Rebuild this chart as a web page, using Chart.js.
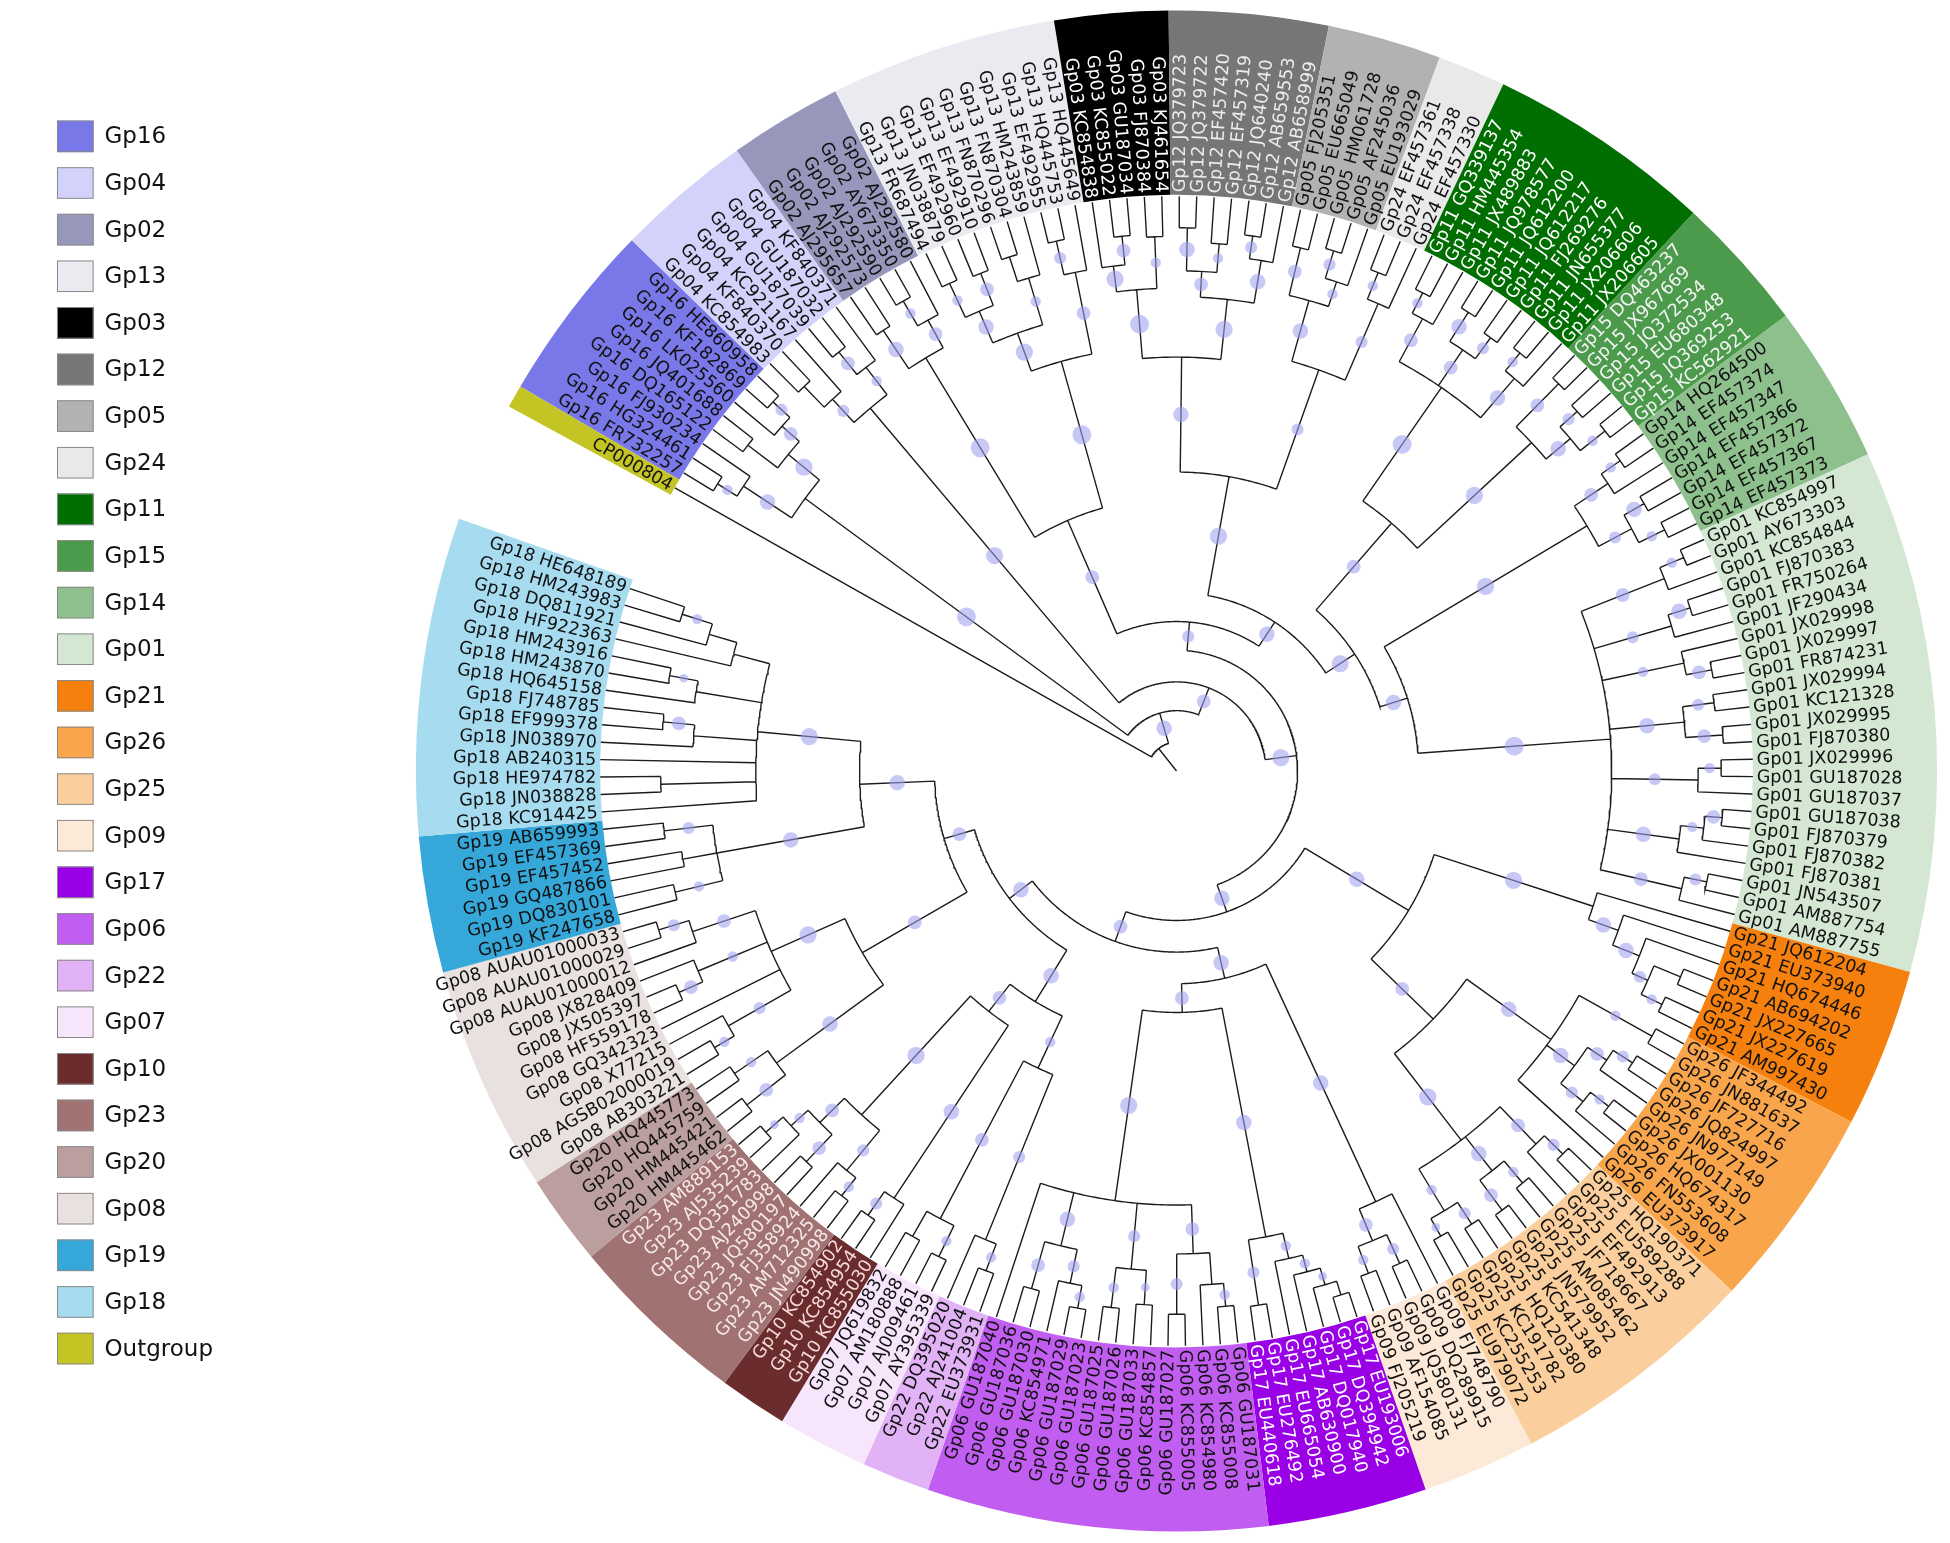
<!DOCTYPE html>
<html>
<head>
<meta charset="utf-8">
<title>Circular phylogeny</title>
<script src="https://cdn.jsdelivr.net/npm/chart.js@4.4.1/dist/chart.umd.min.js"></script>
<style>
  html, body { margin: 0; padding: 0; background: #fff; }
  #wrap { width: 1950px; height: 1543px; position: relative; }
</style>
</head>
<body>
<div id="wrap"><canvas id="tree"></canvas></div>
<script>
// groups, in legend order (= clockwise order after the outgroup)
const groupNames = ['Gp16','Gp04','Gp02','Gp13','Gp03','Gp12','Gp05','Gp24','Gp11','Gp15','Gp14','Gp01','Gp21',
  'Gp26','Gp25','Gp09','Gp17','Gp06','Gp22','Gp07','Gp10','Gp23','Gp20','Gp08','Gp19','Gp18','Outgroup'];
const groupColors = ['#7878e8','#d2d2fa','#9797bb','#eaeaf1','#000000','#767676','#b2b2b2','#e9e9e9','#006e00','#4c9b4c','#8dc08d','#d3e7d3','#f5800e',
  '#f8a54c','#fbcf9d','#fde9d7','#9a00e6','#c15df0','#e1b3f6','#f7e5fc','#6b2c2e','#a07272','#bb9e9e','#e9e0e0','#35a7d9','#a7dcf0','#c4c424'];
const groupInk = ['#111','#111','#111','#111','#fff','#ececec','#111','#111','#fff','#f4f4f4','#111','#111','#111',
  '#111','#111','#111','#fff','#111','#111','#111','#f6dcd6','#f6e8e8','#111','#111','#111','#111','#111'];

// leaves, clockwise from the outgroup
const leafLabels = [
  'CP000804',
  'Gp16 FR732257','Gp16 HG324461','Gp16 FJ930234','Gp16 DQ165122','Gp16 JQ401688','Gp16 LK025560','Gp16 KF182869','Gp16 HE860958',
  'Gp04 KC854983','Gp04 KF840370','Gp04 KC921167','Gp04 GU187039','Gp04 GU187032','Gp04 KF840371',
  'Gp02 AJ295657','Gp02 AJ292573','Gp02 AJ292590','Gp02 AY673350','Gp02 AJ292580',
  'Gp13 FR687494','Gp13 JN038879','Gp13 EF492960','Gp13 EF492910','Gp13 FN870296','Gp13 FN870304','Gp13 HM243859','Gp13 EF492955','Gp13 HQ445753','Gp13 HQ445649',
  'Gp03 KC854838','Gp03 KC855022','Gp03 GU187034','Gp03 FJ870384','Gp03 KJ461654',
  'Gp12 JQ379723','Gp12 JQ379722','Gp12 EF457420','Gp12 EF457319','Gp12 JQ640240','Gp12 AB659553','Gp12 AB658999',
  'Gp05 FJ205351','Gp05 EU665049','Gp05 HM061728','Gp05 AF245036','Gp05 EU193029',
  'Gp24 EF457361','Gp24 EF457338','Gp24 EF457330',
  'Gp11 GQ339137','Gp11 HM445354','Gp11 JX489883','Gp11 JQ978577','Gp11 JQ612200','Gp11 JQ612217','Gp11 FJ269276','Gp11 JN655377','Gp11 JX206606','Gp11 JX206605',
  'Gp15 DQ463237','Gp15 JX967669','Gp15 JQ372534','Gp15 EU680348','Gp15 JQ369253','Gp15 KC562921',
  'Gp14 HQ264500','Gp14 EF457374','Gp14 EF457347','Gp14 EF457366','Gp14 EF457372','Gp14 EF457367','Gp14 EF457373',
  'Gp01 KC854997','Gp01 AY673303','Gp01 KC854844','Gp01 FJ870383','Gp01 FR750264','Gp01 JF290434','Gp01 JX029998','Gp01 JX029997',
  'Gp01 FR874231','Gp01 JX029994','Gp01 KC121328','Gp01 JX029995','Gp01 FJ870380','Gp01 JX029996','Gp01 GU187028','Gp01 GU187037',
  'Gp01 GU187038','Gp01 FJ870379','Gp01 FJ870382','Gp01 FJ870381','Gp01 JN543507','Gp01 AM887754','Gp01 AM887755',
  'Gp21 JQ612204','Gp21 EU373940','Gp21 HQ674446','Gp21 AB694202','Gp21 JX227665','Gp21 JX227619','Gp21 AM997430',
  'Gp26 JF344492','Gp26 JN881637','Gp26 JF727716','Gp26 JQ824997','Gp26 JN977149','Gp26 JX001130','Gp26 HQ674317','Gp26 FN553608','Gp26 EU373917',
  'Gp25 HQ190371','Gp25 EU589288','Gp25 EF492913','Gp25 JF718667','Gp25 AM085462','Gp25 JN579952','Gp25 KC541348','Gp25 HQ120380','Gp25 KC191782','Gp25 KC255253','Gp25 EU979072',
  'Gp09 FJ748790','Gp09 DQ289915','Gp09 JQ580131','Gp09 AF154085','Gp09 FJ205219',
  'Gp17 EU193006','Gp17 DQ394942','Gp17 DQ017940','Gp17 AB630900','Gp17 EU665054','Gp17 EU276492','Gp17 EU440618',
  'Gp06 GU187031','Gp06 KC855008','Gp06 KC854980','Gp06 KC855005','Gp06 GU187027','Gp06 KC854857','Gp06 GU187033','Gp06 GU187026',
  'Gp06 GU187025','Gp06 GU187023','Gp06 GU187029','Gp06 KC854971','Gp06 GU187030','Gp06 GU187036','Gp06 GU187040',
  'Gp22 EU373931','Gp22 AJ241004','Gp22 DQ395020',
  'Gp07 AY395339','Gp07 AJ009461','Gp07 AM180888','Gp07 JQ619832',
  'Gp10 KC855030','Gp10 KC854954','Gp10 KC854902',
  'Gp23 JN490998','Gp23 AM712325','Gp23 FJ358924','Gp23 JQ580197','Gp23 AJ240998','Gp23 DQ351783','Gp23 AJ535239','Gp23 AM889153',
  'Gp20 HM445462','Gp20 HM445421','Gp20 HQ445759','Gp20 HQ445773',
  'Gp08 AB303221','Gp08 AGSB02000019','Gp08 X77215','Gp08 GQ342323','Gp08 HF559178','Gp08 JX505397','Gp08 JX828409',
  'Gp08 AUAU01000012','Gp08 AUAU01000029','Gp08 AUAU01000033',
  'Gp19 KF247658','Gp19 DQ830101','Gp19 GQ487866','Gp19 EF457452','Gp19 EF457369','Gp19 AB659993',
  'Gp18 KC914425','Gp18 JN038828','Gp18 HE974782','Gp18 AB240315','Gp18 JN038970','Gp18 EF999378','Gp18 FJ748785',
  'Gp18 HQ645158','Gp18 HM243870','Gp18 HM243916','Gp18 HF922363','Gp18 DQ811921','Gp18 HM243983','Gp18 HE648189'
];

// clade shapes: '*' = next leaf, ')d:s' = node at depth d (% of root-to-tip), support s
const groupTrees = [
  '(((*,*)94:70,*)90:85,((*,*)93.5:60,(*,(*,*)95:75)91:80)87:90)80:95',
  '(((*,*)93:60,*)88:75,((*,*)93.5:80,*)88.5:70)82.5:90',
  '((*,*)92:85,((*,*)94.5:70,*)89.5:80)84:95',
  '((((*,*)93.5:70,(*,*)93:80)87:85,((*,*)94:60,*)89.5:70)81:90,((*,*)94.5:75,*)88.5:80)74:95',
  '((*,(*,*)93.5:80)88.5:90,(*,*)93:70)84:95',
  '(((*,*)94.5:85,(*,*)92:70)87:80,((*,*)94:75,*)90:85)82.5:90',
  '((*,*)93.5:80,((*,*)94.5:75,*)89.5:70)85:85',
  '((*,*)93.5:70,*)88.5:75',
  '(((*,*)93.5:70,*)89.5:80,((*,*)94.5:85,(*,*)93:75)88.5:80,((*,*)94:70,*)90:85)81:95',
  '((*,*)94.5:80,((*,*)93.5:75,(*,*)95:70)89.5:85)84:90',
  '(((*,*)94:70,*)90:80,((*,*)93.5:85,(*,*)94.5:70)89.5:75)83:90',
  '(((*,*)95.5:70,*)91:80,((*,*)93.5:85,*)89.5:75,(*,(*,*)94.5:80)90:70,((*,*)94:75,(*,*)95:80)88.5:85,((*,*)94.5:70,*)90.5:75,(((*,*)95:80,*)92:70,*)88:85,((*,*)94:75,*)90:80)75.5:95',
  '(*,(*,(*,((*,*)94.5:60,(*,*)93.5:70)89.5:75)86.5:85)81.5:85)76:90',
  '((*,*)94.5:70,(((*,*)94:75,*)90:80,((*,*)95:70,*)91:75)86:85,*)80:85',
  '(((*,*)94.5:75,*)90:80,((*,*)93.5:70,(*,*)95:80)88.5:85,((*,*)94:75,(*,*)93:65)89.5:70)81:90',
  '(*,((*,*)94:75,(*,*)93.5:70)88.5:80)82.5:85',
  '(((((*,*)95.5:60,*)93:65,*)90:70,*)87:70,(*,*)94:75)82.5:85',
  '((((*,*)93.5:70,*)89.5:60,(*,*)94.5:75)84:80,((*,*)93:65,(*,*)94:70)87:75,(((*,*)95:70,*)91:75,(*,*)93.5:80)85:85,*)75.5:90',
  '((*,*)93:70,*)88:75',
  '((*,*)94:70,(*,*)93:60)88:80',
  '(*,(*,*)94:75)89:85',
  '(((*,*)94:70,*)90:75,((*,*)93.5:80,(*,(*,*)95:65)91:70)87:80)81:90',
  '((*,*)94.5:80,(*,*)93:70)86:85',
  '(((*,*)93.5:70,*)89.5:75,*,((*,*)94.5:80,*)90:70,(*,(*,*)94:75)88.5:80)77:90',
  '((*,*)89.5:70,(*,*)87:60,(*,*)89.5:75)81:85',
  '(*,(*,*)89.5:60,*,(*,(*,*)89.5:80)84:60,(*,(*,*)89.5:65)84.5:50,(*,(*,(*,*)90:70)84.5:60)79.5:55)73:90',
  '*'
];
const backbone = '(*,({Gp16},({Gp04},((({Gp02},{Gp13})47.5:80,((({Gp03},{Gp12})72:85,({Gp05},{Gp24})74:75)52:90,' +
  '(({Gp11},{Gp15})57:80,({Gp14},{Gp01})42:85)37:90)31:85)26:75,(({Gp21},({Gp26},{Gp25})62:80)47:85,' +
  '(({Gp09},({Gp17},{Gp06})42:80)37:85,((({Gp22},{Gp07})57:70,({Gp10},{Gp23})53:80)47:85,' +
  '(({Gp20},{Gp08})63:80,({Gp19},{Gp18})55:85)42:80)36.5:85)31.5:80)26:85)21:90)15.5:80)10.5:85)5';

// layout
const W = 1950, H = 1543;
const cx = 1178.5, cy = 771, tipR = 582, bandOuter = 768;
const startDeg = 209.5, gapDeg = 11;
const step = (360 - gapDeg) / (leafLabels.length - 1);

function parseTree(str) {
  let pos = 0, leafIdx = 0;
  function num() {
    const m = /^[0-9.]+/.exec(str.slice(pos));
    pos += m[0].length;
    return parseFloat(m[0]);
  }
  function node() {
    if (str[pos] === '*') { pos++; return { leaf: leafIdx++ }; }
    pos++;
    const kids = [node()];
    while (str[pos] === ',') { pos++; kids.push(node()); }
    pos++;
    const n = { kids: kids, depth: num(), support: 0 };
    if (str[pos] === ':') { pos++; n.support = num(); }
    return n;
  }
  const root = node();
  if (leafIdx !== leafLabels.length) console.warn('leaf count', leafIdx, leafLabels.length);
  return root;
}

const treeText = backbone.replace(/\{(\w+)\}/g, (m, g) => groupTrees[groupNames.indexOf(g)]);
const root = parseTree(treeText);

function polar(r, deg) {
  const a = deg * Math.PI / 180;
  return { x: cx + r * Math.cos(a), y: cy + r * Math.sin(a) };
}

function place(n) {
  if (n.leaf !== undefined) { n.ang = startDeg + n.leaf * step; n.r = tipR; return; }
  n.kids.forEach(place);
  n.r = n.depth / 100 * tipR;
  n.ang = (n.kids[0].ang + n.kids[n.kids.length - 1].ang) / 2;
}
place(root);

const branchPts = [];
const dotPts = [];
function pushLine(pts) {
  pts.forEach(p => branchPts.push(p));
  branchPts.push({ x: pts[pts.length - 1].x, y: null });
}
function walk(n, parentR) {
  if (parentR !== null) {
    pushLine([polar(parentR, n.ang), polar(n.r, n.ang)]);
    if (n.kids && n.support > 60) {
      const p = polar((parentR + n.r) / 2, n.ang);
      dotPts.push({ x: p.x, y: p.y, r: 3.5 + (n.support - 60) * 0.17 });
    }
  }
  if (!n.kids) return;
  const a1 = n.kids[0].ang, a2 = n.kids[n.kids.length - 1].ang;
  const arc = [];
  const k = Math.max(2, Math.ceil((a2 - a1) / 0.5));
  for (let i = 0; i <= k; i++) arc.push(polar(n.r, a1 + (a2 - a1) * i / k));
  pushLine(arc);
  n.kids.forEach(c => walk(c, n.r));
}
walk(root, 0);

// group of each leaf, from its prefix
const leafGroup = leafLabels.map(l => l.indexOf(' ') > 0 ? l.split(' ')[0] : 'Outgroup');

const paperPlugin = {
  id: 'paper',
  beforeDraw(chart) {
    const ctx = chart.ctx;
    ctx.save();
    ctx.fillStyle = '#ffffff';
    ctx.fillRect(0, 0, chart.width, chart.height);
    ctx.restore();
  }
};

function px(chart, p) {
  return { x: chart.scales.x.getPixelForValue(p.x), y: chart.scales.y.getPixelForValue(p.y) };
}

const ringPlugin = {
  id: 'ring',
  beforeDatasetsDraw(chart) {
    const ctx = chart.ctx;
    const c = px(chart, { x: cx, y: cy });
    const rIn = chart.scales.x.getPixelForValue(cx + tipR) - c.x;
    const rOut = chart.scales.x.getPixelForValue(cx + bandOuter) - c.x;
    ctx.save();
    groupNames.forEach((g, gi) => {
      const first = leafGroup.indexOf(g), last = leafGroup.lastIndexOf(g);
      if (first < 0) return;
      const a1 = (startDeg + (first - 0.5) * step) * Math.PI / 180;
      const a2 = (startDeg + (last + 0.5) * step) * Math.PI / 180;
      ctx.beginPath();
      ctx.arc(c.x, c.y, rOut, a1, a2);
      ctx.arc(c.x, c.y, rIn, a2, a1, true);
      ctx.closePath();
      ctx.fillStyle = groupColors[gi];
      ctx.fill();
    });
    ctx.restore();
  },
  afterDatasetsDraw(chart) {
    const ctx = chart.ctx;
    ctx.save();
    ctx.font = '17.5px "DejaVu Sans", Verdana, sans-serif';
    ctx.textBaseline = 'middle';
    leafLabels.forEach((lab, i) => {
      const ang = startDeg + i * step;
      const p = px(chart, polar(tipR + 4, ang));
      const norm = ((ang % 360) + 360) % 360;
      const flip = norm > 90 && norm < 270;
      ctx.save();
      ctx.translate(p.x, p.y);
      ctx.rotate((flip ? ang + 180 : ang) * Math.PI / 180);
      ctx.textAlign = flip ? 'right' : 'left';
      ctx.fillStyle = groupInk[groupNames.indexOf(leafGroup[i])];
      ctx.fillText(lab, 0, 1);
      ctx.restore();
    });
    ctx.restore();
  },
  afterDraw(chart) {
    const ctx = chart.ctx;
    ctx.save();
    ctx.font = '23px "DejaVu Sans", Verdana, sans-serif';
    ctx.textBaseline = 'middle';
    groupNames.forEach((g, i) => {
      const yc = 128.5 + i * 47.2;
      const tl = px(chart, { x: 48, y: yc - 16 });
      const br = px(chart, { x: 85, y: yc + 16 });
      ctx.fillStyle = groupColors[i];
      ctx.fillRect(tl.x, tl.y, br.x - tl.x, br.y - tl.y);
      ctx.strokeStyle = '#8a8a8a';
      ctx.lineWidth = 1;
      ctx.strokeRect(tl.x + 0.5, tl.y + 0.5, br.x - tl.x - 1, br.y - tl.y - 1);
      const t = px(chart, { x: 96, y: yc + 1 });
      ctx.fillStyle = '#111';
      ctx.fillText(g, t.x, t.y);
    });
    ctx.restore();
  }
};

new Chart(document.getElementById('tree'), {
  type: 'scatter',
  data: {
    datasets: [
      {
        type: 'bubble',
        label: 'support',
        data: dotPts,
        backgroundColor: 'rgba(160,160,240,0.58)',
        borderWidth: 0,
        order: 0
      },
      {
        type: 'line',
        label: 'branches',
        data: branchPts,
        borderColor: '#1c1c1c',
        borderWidth: 1.4,
        pointRadius: 0,
        fill: false,
        tension: 0,
        spanGaps: false,
        order: 1
      }
    ]
  },
  options: {
    responsive: true,
    maintainAspectRatio: false,
    animation: false,
    devicePixelRatio: 1,
    events: [],
    layout: { padding: 0 },
    scales: {
      x: { type: 'linear', min: 0, max: W, display: false },
      y: { type: 'linear', min: 0, max: H, reverse: true, display: false }
    },
    plugins: {
      legend: { display: false },
      tooltip: { enabled: false }
    }
  },
  plugins: [paperPlugin, ringPlugin]
});
</script>
</body>
</html>
